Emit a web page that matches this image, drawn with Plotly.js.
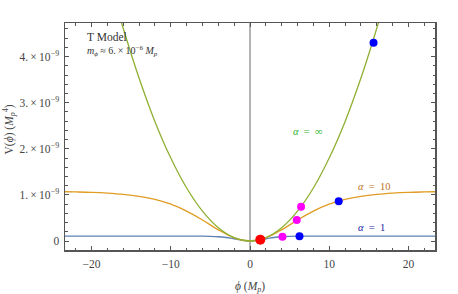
<!DOCTYPE html>
<html>
<head>
<meta charset="utf-8">
<script src="https://cdn.plot.ly/plotly-3.0.1.min.js"></script>
<style>html,body{margin:0;padding:0;background:#fff;}#chart{width:458px;height:294px;}</style>
</head>
<body>
<div id="chart"></div>
<script>
// values of V in units of 1e-9 M_p^4
const phiInf = [-17,-16,-14,-12,-10,-8,-6,-4,-2,0,2,4,6,8,10,12,14,16,17];
const vInf   = [5.20,4.61,3.53,2.59,1.80,1.15,0.648,0.288,0.072,0,0.072,0.288,0.648,1.15,1.80,2.59,3.53,4.61,5.20];

const phi10 = [-24,-22,-20,-18,-16,-14,-12,-10,-8,-6,-4,-2,0,2,4,6,8,10,12,14,16,18,20,22,24];
const v10   = [1.071,1.065,1.056,1.039,1.012,0.969,0.902,0.798,0.649,0.456,0.243,0.069,0,0.069,0.243,0.456,0.649,0.798,0.902,0.969,1.012,1.039,1.056,1.065,1.071];

const phi1 = [-24,-10,-8,-6,-5,-4,-3,-2.5,-2,-1.5,-1,-0.5,0,0.5,1,1.5,2,2.5,3,4,5,6,8,10,24];
const v1   = [0.108,0.108,0.107,0.105,0.101,0.093,0.076,0.064,0.049,0.032,0.016,0.004,0,0.004,0.016,0.032,0.049,0.064,0.076,0.093,0.101,0.105,0.107,0.108,0.108];

const bluePhi = [15.6, 11.2, 6.25];
const blueV   = [4.30, 0.86, 0.105];
const magPhi  = [6.45, 5.9, 4.1];
const magV    = [0.745, 0.455, 0.093];
const redPhi  = [1.3];
const redV    = [0.03];

const yTickVals = [0,1,2,3,4];
const yTickText = ['0','1.\u2009×\u200910<sup>−9</sup>','2.\u2009×\u200910<sup>−9</sup>','3.\u2009×\u200910<sup>−9</sup>','4.\u2009×\u200910<sup>−9</sup>'];
const xTickVals = [-20,-10,0,10,20];
const xTickText = ['−20','−10','0','10','20'];

const serif = 'Liberation Serif, Times New Roman, serif';

const traces = [
  {x: phi1, y: v1, mode:'lines', line:{color:'#5E81B5', width:1.3, shape:'spline'}, hoverinfo:'skip'},
  {x: phi10, y: v10, mode:'lines', line:{color:'#E19C24', width:1.3, shape:'spline'}, hoverinfo:'skip'},
  {x: phiInf, y: vInf, mode:'lines', line:{color:'#8FB032', width:1.3, shape:'spline'}, hoverinfo:'skip'},
  {x: magPhi, y: magV, mode:'markers', marker:{color:'#FF00FF', size:8}},
  {x: bluePhi, y: blueV, mode:'markers', marker:{color:'#0000FF', size:8}},
  {x: redPhi, y: redV, mode:'markers', marker:{color:'#FF0000', size:10}}
];

const axisCommon = {
  showline:true, mirror:'allticks', linecolor:'#555', linewidth:1.5,
  ticks:'inside', ticklen:4, tickwidth:1, tickcolor:'#555',
  showgrid:false, tickfont:{family:serif, size:11.5, color:'#444'},
  fixedrange:true
};

const layout = {
  width:458, height:294,
  margin:{l:65, r:23, t:23, b:44},
  paper_bgcolor:'#fff', plot_bgcolor:'#fff',
  showlegend:false,
  xaxis: Object.assign({}, axisCommon, {
    range:[-23.36, 23.36], tickmode:'array', tickvals:xTickVals, ticktext:xTickText,
    zeroline:true, zerolinecolor:'#b4b4b4', zerolinewidth:1.5,
    minor:{dtick:2, tick0:0, ticks:'inside', ticklen:2.5, tickcolor:'#555', tickwidth:1, showgrid:false},
    ticklabelstandoff:3
  }),
  yaxis: Object.assign({}, axisCommon, {
    range:[-0.195, 4.73], tickmode:'array', tickvals:yTickVals, ticktext:yTickText,
    zeroline:false,
    minor:{dtick:0.2, tick0:0, ticks:'inside', ticklen:2.5, tickcolor:'#555', tickwidth:1, showgrid:false},
    ticklabelstandoff:2
  }),
  annotations:[
    {xref:'paper', yref:'paper', x:0.5, y:-0.165, yanchor:'middle', xanchor:'center', showarrow:false,
     text:'<i>ϕ</i> (<i>M</i><sub><i>p</i></sub>)', font:{family:serif, size:11.5, color:'#444'}},
    {xref:'paper', yref:'paper', x:-0.152, y:0.53, xanchor:'center', yanchor:'middle', showarrow:false, textangle:-90,
     text:'V(<i>ϕ</i>) (<i>M</i><sub><i>p</i></sub><sup>4</sup>)', font:{family:serif, size:11.5, color:'#444'}},
    {xref:'paper', yref:'paper', x:0.054, y:0.94, xanchor:'left', yanchor:'middle', showarrow:false,
     text:'T Model', font:{family:serif, size:11.5, color:'#333'}},
    {xref:'paper', yref:'paper', x:0.054, y:0.877, xanchor:'left', yanchor:'middle', showarrow:false,
     text:'<i>m</i><sub><i>ϕ</i></sub> ≈ 6.\u2009×\u200910<sup>−6</sup> <i>M</i><sub><i>p</i></sub>', font:{family:serif, size:10, color:'#333'}},
    {xref:'paper', yref:'paper', x:0.655, y:0.524, xanchor:'center', yanchor:'middle', showarrow:false,
     text:'<i>α</i>\u2002=\u2002∞', font:{family:serif, size:10.5, color:'#2CB52C'}},
    {xref:'paper', yref:'paper', x:0.835, y:0.279, xanchor:'center', yanchor:'middle', showarrow:false,
     text:'<i>α</i>\u2002=\u200210', font:{family:serif, size:10.5, color:'#C0741A'}},
    {xref:'paper', yref:'paper', x:0.828, y:0.097, xanchor:'center', yanchor:'middle', showarrow:false,
     text:'<i>α</i>\u2002=\u20021', font:{family:serif, size:10.5, color:'#1A1AA8'}}
  ]
};

Plotly.newPlot('chart', traces, layout, {displayModeBar:false, staticPlot:true});
</script>
</body>
</html>
